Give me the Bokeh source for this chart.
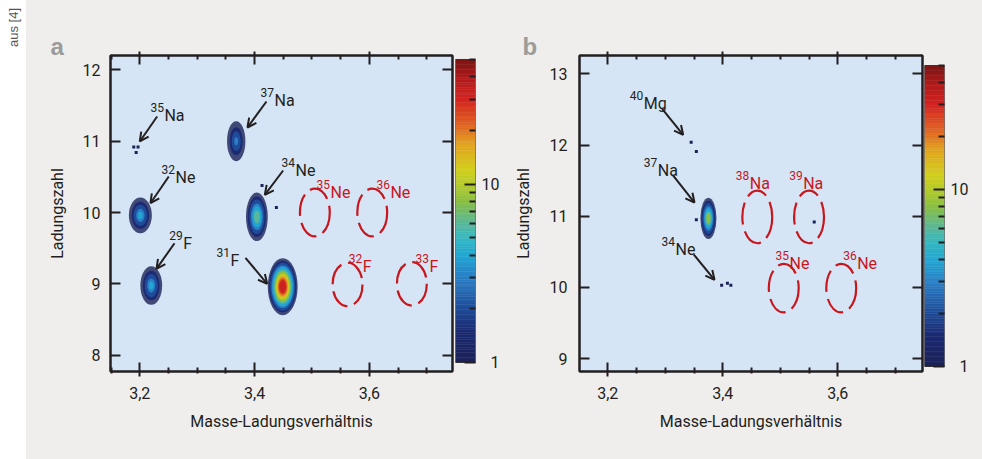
import math
from bokeh.plotting import figure
from bokeh.models import (ColumnDataSource, Range1d, LinearAxis, FixedTicker,
                          Arrow, OpenHead, Div)
from bokeh.layouts import row
from bokeh.embed import file_html
from bokeh.resources import INLINE
from bokeh.core.properties import value

# ------------------------------------------------------------------ data
x_ticks = [3.2, 3.4, 3.6]
x_tick_labels = ["3,2", "3,4", "3,6"]
x_minor_ticks = [3.15, 3.25, 3.3, 3.35, 3.45, 3.5, 3.55, 3.65, 3.7]
a_y_ticks = [8, 9, 10, 11, 12]
b_y_ticks = [9, 10, 11, 12, 13]
cbar_ticks = [1, 10]
cbar_tick_labels = ["\u20071", "10"]
cbar_minor_ticks = [2, 3, 4, 5, 6, 7, 8, 9, 20, 30, 40, 50]
cbar_max = 50

# colour scale: counts -> colour
cmap_counts = [1, 1.5, 2, 3, 4, 5, 6, 8, 10, 12, 17, 20, 30, 40, 50]
cmap_colors = ["#1c2258", "#1b2a72", "#1f4b98", "#2a7fc6", "#22a7d2", "#35b8c2",
               "#58b89c", "#8abf44", "#b5cb2b", "#d2cf1e", "#e1a11f", "#e17322",
               "#d42321", "#ae1a1b", "#7a1616"]

# panel a: observed nuclei (count blobs)
a_blob_mq = [3.201, 3.220, 3.368, 3.404, 3.449]
a_blob_z = [9.96, 8.975, 11.0, 9.94, 8.96]
a_blob_w = [0.040, 0.038, 0.032, 0.038, 0.052]
a_blob_h = [0.50, 0.54, 0.56, 0.68, 0.80]
a_blob_peak = [4, 4, 3, 7, 35]
a_single_mq = [3.1895, 3.197, 3.1937, 3.438, 3.413]
a_single_z = [10.92, 10.92, 10.84, 10.07, 10.38]

a_obs_mass = ["35", "37", "32", "34", "29", "31"]
a_obs_el = ["Na", "Na", "Ne", "Ne", "F", "F"]
a_obs_lab_x = [3.243, 3.4347, 3.2622, 3.4713, 3.2756, 3.358]
a_obs_lab_y = [11.360, 11.571, 10.491, 10.589, 9.561, 9.327]
a_arrow_x0 = [3.2303, 3.4207, 3.2505, 3.4498, 3.2605, 3.3841]
a_arrow_y0 = [11.346, 11.557, 10.505, 10.589, 9.569, 9.365]
a_arrow_x1 = [3.2000, 3.3876, 3.2186, 3.4178, 3.2291, 3.4220]
a_arrow_y1 = [10.996, 11.192, 10.130, 10.248, 9.210, 9.000]

# panel a: expected (not observed) nuclei
a_exp_mass = ["35", "36", "32", "33"]
a_exp_el = ["Ne", "Ne", "F", "F"]
a_exp_mq = [3.505, 3.605, 3.562, 3.674]
a_exp_z = [10.0, 10.0, 8.99, 9.0]
a_exp_w = [0.052, 0.052, 0.052, 0.052]
a_exp_h = [0.67, 0.67, 0.61, 0.61]
a_exp_lab_x = [3.5322, 3.6367, 3.5885, 3.7047]
a_exp_lab_y = [10.285, 10.281, 9.243, 9.243]

# panel b: observed
b_blob_mq = [3.375]
b_blob_z = [10.97]
b_blob_w = [0.028]
b_blob_h = [0.58]
b_blob_peak = [9]
b_single_mq = [3.345, 3.354, 3.354, 3.398, 3.408, 3.414, 3.559]
b_single_z = [12.04, 11.91, 10.95, 10.03, 10.06, 10.03, 10.92]

b_obs_mass = ["40", "37", "34"]
b_obs_el = ["Mg", "Na", "Ne"]
b_obs_lab_x = [3.2626, 3.287, 3.3177]
b_obs_lab_y = [12.579, 11.642, 10.528]
b_arrow_x0 = [3.2946, 3.3134, 3.3496]
b_arrow_y0 = [12.508, 11.572, 10.462]
b_arrow_x1 = [3.3311, 3.3508, 3.3856]
b_arrow_y1 = [12.143, 11.192, 10.107]

# panel b: expected
b_exp_mass = ["38", "39", "35", "36"]
b_exp_el = ["Na", "Na", "Ne", "Ne"]
b_exp_mq = [3.46, 3.55, 3.506, 3.606]
b_exp_z = [10.99, 10.99, 9.99, 9.99]
b_exp_w = [0.052, 0.052, 0.052, 0.052]
b_exp_h = [0.74, 0.74, 0.68, 0.68]
b_exp_lab_x = [3.447, 3.5398, 3.516, 3.6337]
b_exp_lab_y = [11.455, 11.455, 10.331, 10.331]

# ------------------------------------------------------------------ style
FONT = "Roboto"
INK = "#231f20"
RED = "#c8161d"
BG = "#d5e5f5"
GREY = "#efeeec"
H = 459
TOP_B = 55
FRAME_H = 316
BOT_B = H - TOP_B - FRAME_H
blob_levels = [1, 1.5, 2, 3, 4, 6, 8, 11, 15, 20, 26, 32]


def _rgb(h):
    return [int(h[i:i + 2], 16) for i in (1, 3, 5)]


def count_color(v):
    t = math.log(v)
    ts = [math.log(c) for c in cmap_counts]
    if t <= ts[0]:
        return cmap_colors[0]
    for i in range(len(ts) - 1):
        if t <= ts[i + 1]:
            u = (t - ts[i]) / (ts[i + 1] - ts[i])
            c0, c1 = _rgb(cmap_colors[i]), _rgb(cmap_colors[i + 1])
            return "#%02x%02x%02x" % tuple(round(a + (b - a) * u) for a, b in zip(c0, c1))
    return cmap_colors[-1]


def blob_source(mq, z, w, h, peak):
    d = dict(x=[], y=[], w=[], h=[], c=[], a=[])
    for cx, cy, cw, ch, pk in zip(mq, z, w, h, peak):
        for L in blob_levels:
            if L > pk:
                break
            f = 1.0 if L == 1 else 1 - 0.8 * math.log(L) / math.log(pk)
            d["x"].append(cx); d["y"].append(cy)
            d["w"].append(cw * f); d["h"].append(ch * f)
            d["c"].append(count_color(L)); d["a"].append(0.8 if L == 1 else 1.0)
    return ColumnDataSource(d)


def add_labels(p, xs, ys, masses, els, color):
    src = ColumnDataSource(dict(x=xs, y=ys, m=masses, e=els))
    p.text(x="x", y="y", text="e", source=src, text_font=value(FONT),
           text_font_size="16px", text_color=color, text_align="left",
           text_baseline="alphabetic")
    p.text(x="x", y="y", text="m", source=src, text_font=value(FONT),
           text_font_size="12px", text_color=color, text_align="right",
           text_baseline="alphabetic", y_offset=-8, x_offset=-0.5)


def hide_labels(ax, ticks):
    ax.major_label_overrides = {t: "" for t in ticks}
    ax.major_label_text_font_size = "0px"
    ax.major_label_standoff = 0


def panel(xr, yr, y_ticks, left_b, frame_w, right_b, ystand, ylab_stand,
          letter, letter_off):
    p = figure(width=left_b + frame_w + right_b, height=H,
               x_range=Range1d(*xr), y_range=Range1d(*yr),
               min_border_left=left_b, min_border_right=right_b,
               min_border_top=TOP_B, min_border_bottom=BOT_B,
               x_axis_location=None, y_axis_location=None,
               toolbar_location=None, output_backend="svg",
               background_fill_color=BG, border_fill_color=GREY,
               outline_line_color=INK, outline_line_width=2)
    for loc in ("below", "above"):
        ax = LinearAxis(ticker=FixedTicker(ticks=x_ticks, minor_ticks=x_minor_ticks),
                        major_tick_in=9, major_tick_out=5 if loc == "below" else 4,
                        minor_tick_in=4, minor_tick_out=2 if loc == "below" else 0,
                        axis_line_color=INK, axis_line_width=2,
                        major_tick_line_color=INK, major_tick_line_width=2,
                        minor_tick_line_color=INK, minor_tick_line_width=2)
        if loc == "below":
            ax.major_label_overrides = dict(zip(x_ticks, x_tick_labels))
            ax.axis_label = "Masse-Ladungsverhältnis"
            ax.axis_label_text_font = FONT
            ax.axis_label_text_font_size = "16px"
            ax.axis_label_text_font_style = "normal"
            ax.axis_label_text_color = INK
            ax.axis_label_standoff = 10
            ax.major_label_text_font = FONT
            ax.major_label_text_font_size = "16px"
            ax.major_label_text_color = INK
            ax.major_label_standoff = 10
        else:
            hide_labels(ax, x_ticks)
        p.add_layout(ax, loc)
    for loc in ("left", "right"):
        ax = LinearAxis(ticker=FixedTicker(ticks=y_ticks, minor_ticks=[]),
                        major_tick_in=10, major_tick_out=0,
                        minor_tick_in=0, minor_tick_out=0,
                        axis_line_color=INK, axis_line_width=2,
                        major_tick_line_color=INK, major_tick_line_width=2)
        if loc == "left":
            ax.axis_label = "Ladungszahl"
            ax.axis_label_text_font = FONT
            ax.axis_label_text_font_size = "16px"
            ax.axis_label_text_font_style = "normal"
            ax.axis_label_text_color = INK
            ax.axis_label_standoff = ylab_stand
            ax.major_label_text_font = FONT
            ax.major_label_text_font_size = "16px"
            ax.major_label_text_color = INK
            ax.major_label_standoff = ystand
        else:
            hide_labels(ax, y_ticks)
        p.add_layout(ax, loc)
    p.title.text = letter
    p.title.align = "left"
    p.title.offset = letter_off
    p.title.vertical_align = "bottom"
    p.title.standoff = -16
    p.title.text_font = "Liberation Sans"
    p.title.text_font_size = "24px"
    p.title.text_font_style = "bold"
    p.title.text_color = "#9b9b9b"
    p.grid.visible = False
    return p


def add_content(p, blob, singles, obs, arrows, exp):
    p.ellipse(x="x", y="y", width="w", height="h", source=blob,
              fill_color="c", fill_alpha="a", line_color=None)
    p.scatter(x=singles[0], y=singles[1], marker="square", size=3,
              fill_color=count_color(1), line_color=None)
    emq, ez, ew, eh, elx, ely, em, ee = exp
    p.ellipse(x=emq, y=ez, width=ew, height=eh, fill_color=None,
              line_color=RED, line_width=2.2, line_dash="22 7")
    add_labels(p, elx, ely, em, ee, RED)
    ox, oy, om, oe = obs
    add_labels(p, ox, oy, om, oe, INK)
    asrc = ColumnDataSource(dict(x0=arrows[0], y0=arrows[1], x1=arrows[2], y1=arrows[3]))
    p.add_layout(Arrow(source=asrc, x_start="x0", y_start="y0", x_end="x1", y_end="y1",
                       line_color=INK, line_width=2,
                       end=OpenHead(size=9, line_width=2, line_color=INK)))


def colorbar(width, yr):
    c = figure(width=width, height=H, title=None,
               x_range=Range1d(0, 1), y_range=Range1d(*yr),
               y_axis_type="log", x_axis_location=None, y_axis_location="right",
               min_border_left=0, min_border_right=width - 20,
               min_border_top=TOP_B, min_border_bottom=BOT_B,
               toolbar_location=None, output_backend="svg",
               background_fill_color=GREY, border_fill_color=GREY,
               outline_line_color=None)
    n = 120
    top_log = math.log10(cbar_max)
    edges = [10 ** (top_log * i / n) for i in range(n + 1)]
    cols = [count_color(math.sqrt(edges[i] * edges[i + 1])) for i in range(n)]
    c.quad(left=0, right=1, bottom=edges[:-1], top=edges[1:], fill_color=cols,
           line_color=cols, line_width=0.5)
    c.quad(left=[0], right=[1], bottom=[1], top=[cbar_max], fill_color=None,
           line_color="#333333", line_width=1)
    ax = c.yaxis[0]
    ax.ticker = FixedTicker(ticks=cbar_ticks, minor_ticks=cbar_minor_ticks)
    ax.major_label_overrides = dict(zip(cbar_ticks, cbar_tick_labels))
    ax.major_tick_in = 11
    ax.major_tick_out = 0
    ax.minor_tick_in = 6
    ax.minor_tick_out = 0
    ax.major_tick_line_color = INK
    ax.major_tick_line_width = 2
    ax.minor_tick_line_color = INK
    ax.minor_tick_line_width = 2
    ax.axis_line_color = None
    ax.major_label_text_font = FONT
    ax.major_label_text_font_size = "16px"
    ax.major_label_text_color = INK
    ax.major_label_standoff = 6
    c.grid.visible = False
    return c


# ------------------------------------------------------------------ build
strip = Div(text=("<div style=\"position:absolute;left:8px;top:47px;"
                  "transform:rotate(-90deg);transform-origin:0 0;white-space:nowrap;"
                  "font-family:'Liberation Sans';font-size:13px;line-height:12px;"
                  "color:#555555\">aus [4]</div>"),
            width=26, height=H, margin=0,
            styles={"background-color": "white", "position": "relative",
                    "overflow": "visible"})

pa = panel((3.149, 3.7448), (7.770, 12.202), a_y_ticks, 84, 342, 3, 10, 13, "a", -60)
add_content(pa, blob_source(a_blob_mq, a_blob_z, a_blob_w, a_blob_h, a_blob_peak),
            (a_single_mq, a_single_z),
            (a_obs_lab_x, a_obs_lab_y, a_obs_mass, a_obs_el),
            (a_arrow_x0, a_arrow_y0, a_arrow_x1, a_arrow_y1),
            (a_exp_mq, a_exp_z, a_exp_w, a_exp_h, a_exp_lab_x, a_exp_lab_y, a_exp_mass, a_exp_el))
ca = colorbar(55, (0.890, 52.65))

pb = panel((3.1508, 3.7473), (8.819, 13.257), b_y_ticks, 69, 343, 2, 12, 14, "b", -57)
add_content(pb, blob_source(b_blob_mq, b_blob_z, b_blob_w, b_blob_h, b_blob_peak),
            (b_single_mq, b_single_z),
            (b_obs_lab_x, b_obs_lab_y, b_obs_mass, b_obs_el),
            (b_arrow_x0, b_arrow_y0, b_arrow_x1, b_arrow_y1),
            (b_exp_mq, b_exp_z, b_exp_w, b_exp_h, b_exp_lab_x, b_exp_lab_y, b_exp_mass, b_exp_el))
cb = colorbar(58, (0.937, 56.94))

layout = row(strip, pa, ca, pb, cb, spacing=0, styles={"background-color": GREY})
open("out.html", "w").write(file_html(layout, INLINE))
